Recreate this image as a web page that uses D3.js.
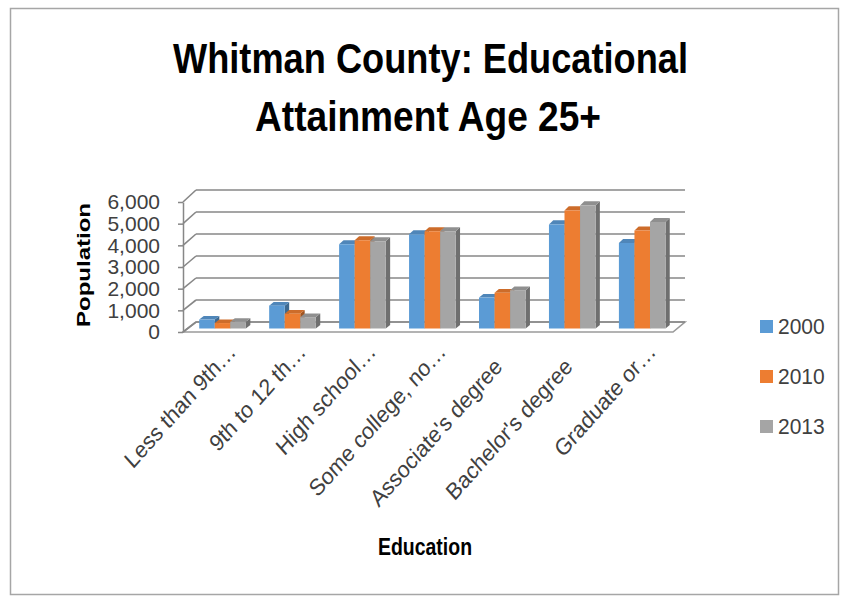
<!DOCTYPE html>
<html>
<head>
<meta charset="utf-8">
<script src="https://cdn.jsdelivr.net/npm/d3@7"></script>
<style>
  html, body { margin: 0; padding: 0; background: #ffffff; }
  svg { display: block; }
  text { font-family: "Liberation Sans", Arial, sans-serif; }
</style>
</head>
<body>
<svg id="chart" width="849" height="603"></svg>
<script>
// Educational attainment, population age 25+, Whitman County
const categories = ["Less than 9th…", "9th to 12 th…", "High school…", "Some college, no…",
                    "Associate's degree", "Bachelor's degree", "Graduate or…"];
const years = ["2000", "2010", "2013"];
const values2000 = [410, 1050, 3870, 4330, 1420, 4780, 3930];
const values2010 = [250, 680, 4050, 4460, 1640, 5420, 4500];
const values2013 = [310, 520, 4010, 4460, 1760, 5650, 4890];
const yTicks = [0, 1000, 2000, 3000, 4000, 5000, 6000];
const colors = ["#5B9BD5", "#ED7D31", "#A5A5A5"];

const seriesValues = [values2000, values2010, values2013];

const svg = d3.select("#chart");

// outer chart frame
svg.append("rect")
  .attr("x", 10.5).attr("y", 8.5).attr("width", 828).attr("height", 586)
  .attr("fill", "#ffffff").attr("stroke", "#a6a6a6").attr("stroke-width", 1.5);

// title
const title = svg.append("g").attr("font-weight", "bold").attr("fill", "#000")
  .attr("font-size", 40).attr("text-anchor", "middle");
title.append("text").attr("transform", "translate(430.5,73) scale(1,1.05)")
  .attr("textLength", 515).attr("lengthAdjust", "spacingAndGlyphs")
  .text("Whitman County: Educational");
title.append("text").attr("transform", "translate(428,131) scale(1,1.05)")
  .attr("textLength", 346).attr("lengthAdjust", "spacingAndGlyphs")
  .text("Attainment Age 25+");

// oblique 3D frame: front plane and back wall
const xFront = d3.scaleBand().domain(categories).range([183, 673]);
const xBack = d3.scaleBand().domain(categories).range([196, 685]);
const yFront = d3.scaleLinear().domain([0, 6000]).range([332, 202]);
const yBack = d3.scaleLinear().domain([0, 6000]).range([322, 190]);
// bar slots inside a category band (gap width 150%)
const xSub = d3.scaleBand().domain(years).range([0.75 / 4.5, 3.75 / 4.5]);

const lerp = (a, b, t) => a + (b - a) * t;
function px(cat, frac, z) {
  const f = xFront(cat) + frac * xFront.bandwidth();
  const b = xBack(cat) + frac * xBack.bandwidth();
  return lerp(f, b, z);
}
function py(v, z) { return lerp(yFront(v), yBack(v), z); }

const gridColor = "#878787";
const plot = svg.append("g");

// floor
const x0f = xFront.range()[0], x1f = xFront.range()[1];
const x0b = xBack.range()[0], x1b = xBack.range()[1];
plot.append("polygon")
  .attr("points", [[x0f, yFront(0)], [x1f, yFront(0)], [x1b, yBack(0)], [x0b, yBack(0)]].join(" "))
  .attr("fill", "#ffffff").attr("stroke", "#9a9a9a").attr("stroke-width", 1.6);

// gridlines on back wall and side wall
const grid = plot.append("g").attr("stroke", gridColor).attr("stroke-width", 1.6).attr("fill", "none");
yTicks.forEach(v => {
  grid.append("line").attr("x1", x0b).attr("x2", x1b).attr("y1", yBack(v)).attr("y2", yBack(v));
  grid.append("line").attr("x1", x0f).attr("x2", x0b).attr("y1", yFront(v)).attr("y2", yBack(v));
});

// value axis at the front-left edge
const yAxis = d3.axisLeft(yFront).tickValues(yTicks).tickFormat(d3.format(","))
  .tickSize(5).tickSizeOuter(0).tickPadding(18);
const axisG = plot.append("g").attr("transform", `translate(${x0f},0)`).call(yAxis);
axisG.select(".domain").attr("stroke", gridColor).attr("stroke-width", 1.5);
axisG.selectAll(".tick line").attr("stroke", gridColor).attr("stroke-width", 1.5);
axisG.selectAll(".tick text").attr("font-size", 21).attr("fill", "#404040")
  .attr("font-family", "'Liberation Sans', Arial, sans-serif");

// bars: front face, top face and right side face
const zF = 0.35, zB = 0.7;
const bars = plot.append("g");
categories.forEach((cat, ci) => {
  years.forEach((yr, si) => {
    const v = seriesValues[si][ci];
    const a = xSub(yr), b = xSub(yr) + xSub.bandwidth();
    const base = d3.color(colors[si]);
    const side = [[px(cat, b, zF), py(0, zF)], [px(cat, b, zB), py(0, zB)],
                  [px(cat, b, zB), py(v, zB)], [px(cat, b, zF), py(v, zF)]];
    const top = [[px(cat, a, zF), py(v, zF)], [px(cat, b, zF), py(v, zF)],
                 [px(cat, b, zB), py(v, zB)], [px(cat, a, zB), py(v, zB)]];
    const front = [[px(cat, a, zF), py(0, zF)], [px(cat, b, zF), py(0, zF)],
                   [px(cat, b, zF), py(v, zF)], [px(cat, a, zF), py(v, zF)]];
    bars.append("polygon").attr("points", side.join(" ")).attr("fill", base.darker(1.1));
    bars.append("polygon").attr("points", top.join(" ")).attr("fill", base.darker(0.4));
    bars.append("polygon").attr("points", front.join(" ")).attr("fill", base);
  });
});

// category labels; untruncated labels keep room for the ellipsis slot
const catG = svg.append("g").attr("font-size", 21).attr("fill", "#404040").attr("text-anchor", "end");
categories.forEach(cat => {
  const cx = xFront(cat) + xFront.bandwidth() / 2 + 19;
  catG.append("text")
    .attr("transform", `translate(${cx},353) scale(1,1.12) rotate(-45)`)
    .attr("dx", cat.endsWith("…") ? 0 : "-0.9em")
    .text(cat);
});

// axis titles
svg.append("text").attr("transform", "translate(425,555) scale(1,1.1)").attr("text-anchor", "middle")
  .attr("font-size", 21).attr("font-weight", "bold").attr("fill", "#000")
  .attr("textLength", 94).attr("lengthAdjust", "spacingAndGlyphs")
  .text("Education");
svg.append("text").attr("transform", "translate(89.5,265) rotate(-90)")
  .attr("text-anchor", "middle").attr("font-size", 18).attr("font-weight", "bold").attr("fill", "#000")
  .attr("textLength", 124).attr("lengthAdjust", "spacingAndGlyphs")
  .text("Population");

// legend
const legendY = d3.scalePoint().domain(years).range([326.5, 426.5]);
const legend = svg.append("g");
years.forEach((yr, i) => {
  legend.append("rect").attr("x", 760).attr("y", legendY(yr) - 6.5)
    .attr("width", 13).attr("height", 13).attr("fill", colors[i]);
  legend.append("text").attr("transform", `translate(778,${legendY(yr) + 7.5}) scale(1,1.08)`)
    .attr("font-size", 21).attr("fill", "#404040").text(yr);
});
</script>
</body>
</html>
